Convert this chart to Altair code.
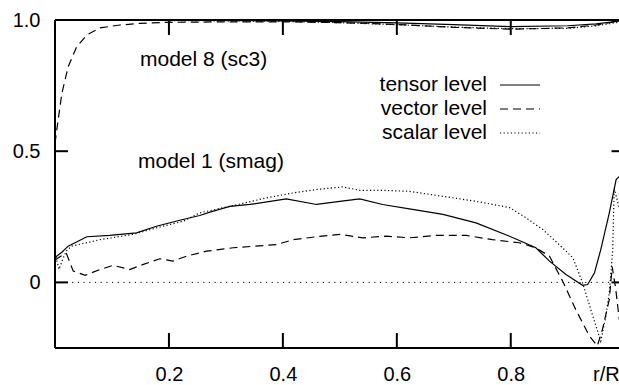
import altair as alt
import pandas as pd

# ---------------- data ----------------
# model 1 (smag)
m1_tensor_x = [0.0, 0.012, 0.023, 0.056, 0.096, 0.143, 0.178, 0.219, 0.254, 0.272, 0.307, 0.342, 0.406, 0.459,
               0.500, 0.535, 0.575, 0.622, 0.681, 0.739, 0.798, 0.844, 0.868, 0.897, 0.926, 0.935, 0.947, 0.958,
               0.973, 0.985, 0.990, 1.0]
m1_tensor_y = [0.095, 0.115, 0.138, 0.174, 0.179, 0.189, 0.214, 0.237, 0.255, 0.268, 0.290, 0.297, 0.318, 0.297,
               0.309, 0.318, 0.297, 0.280, 0.259, 0.227, 0.176, 0.132, 0.081, 0.030, -0.011, -0.008, 0.037, 0.125,
               0.265, 0.392, 0.403, 0.41]

m1_vector_x = [0.0, 0.01, 0.02, 0.032, 0.053, 0.079, 0.102, 0.131, 0.154, 0.184, 0.207, 0.231, 0.266, 0.313,
               0.389, 0.418, 0.459, 0.500, 0.540, 0.581, 0.622, 0.669, 0.722, 0.768, 0.815, 0.844, 0.868, 0.891,
               0.914, 0.938, 0.952, 0.961, 0.973, 0.978, 0.984, 0.99, 1.0]
m1_vector_y = [0.085, 0.10, 0.11, 0.043, 0.027, 0.049, 0.065, 0.049, 0.068, 0.090, 0.081, 0.100, 0.119, 0.132,
               0.144, 0.163, 0.174, 0.183, 0.170, 0.176, 0.170, 0.179, 0.179, 0.163, 0.151, 0.132, 0.100, 0.005,
               -0.103, -0.204, -0.242, -0.179, -0.065, 0.06, -0.02, -0.133, -0.25]

m1_scalar_x = [0.0, 0.007, 0.013, 0.02, 0.029, 0.079, 0.137, 0.178, 0.225, 0.254, 0.313, 0.371, 0.418, 0.459,
               0.505, 0.535, 0.575, 0.622, 0.681, 0.739, 0.798, 0.827, 0.856, 0.885, 0.909, 0.926, 0.944, 0.958,
               0.967, 0.973, 0.979, 0.9815, 1.0]
m1_scalar_y = [0.11, 0.05, 0.085, 0.12, 0.138, 0.163, 0.183, 0.208, 0.233, 0.265, 0.293, 0.322, 0.341, 0.354,
               0.364, 0.351, 0.351, 0.347, 0.328, 0.309, 0.285, 0.246, 0.202, 0.144, 0.094, -0.001, -0.128, -0.224,
               -0.128, -0.039, 0.125, 0.36, 0.2]

# model 8 (sc3)
m8_vector_x = [0.0, 0.003, 0.012, 0.023, 0.038, 0.056, 0.079, 0.114, 0.149, 0.196, 0.3, 0.4, 0.5, 0.6, 0.7,
               0.8, 0.9, 0.95, 0.99, 1.0]
m8_vector_y = [0.53, 0.58, 0.72, 0.821, 0.898, 0.943, 0.970, 0.981, 0.987, 0.991, 0.993, 0.993, 0.99, 0.983,
               0.972, 0.965, 0.97, 0.981, 0.996, 1.0]

m8_tensor_x = [0.0, 0.05, 0.2, 0.4, 0.5, 0.6, 0.7, 0.8, 0.9, 0.95, 1.0]
m8_tensor_y = [1.0, 1.0, 0.999, 0.997, 0.994, 0.989, 0.982, 0.975, 0.978, 0.985, 0.998]

m8_scalar_x = [0.0, 0.05, 0.2, 0.4, 0.5, 0.6, 0.7, 0.8, 0.9, 0.95, 1.0]
m8_scalar_y = [1.0, 1.0, 0.998, 0.995, 0.99, 0.982, 0.973, 0.967, 0.968, 0.978, 0.995]

x_ticks = [0.2, 0.4, 0.6, 0.8]
y_ticks = [0.0, 0.5, 1.0]
legend_labels = ["tensor level", "vector level", "scalar level"]
model_labels = ["model 8 (sc3)", "model 1 (smag)"]
axis_end_label = "r/R"

# ---------------- layout / style ----------------
W, H = 564, 328
FONT = "Liberation Sans"
FS = 20
FS_TEXT = 21
SOLID = []
DASH = [8, 5]
DOT = [1.2, 2.4]
LW = 1.2

xscale = alt.Scale(domain=[0, 0.99], nice=False, zero=False)
yscale = alt.Scale(domain=[-0.25, 1.0], nice=False, zero=False)

XAX = alt.Axis(values=x_ticks, format=".1f", ticks=False, domain=False, grid=False,
               labelFont=FONT, labelFontSize=FS, labelColor="black", labelPadding=16, title=None)
YAX = alt.Axis(values=y_ticks, ticks=False, domain=False, grid=False,
               labelExpr="datum.value == 0 ? '0' : format(datum.value, '.1f')",
               labelFont=FONT, labelFontSize=FS, labelColor="black", labelPadding=15, title=None)


def X(field):
    return alt.X(field, scale=xscale, axis=XAX, title=None)


def Y(field):
    return alt.Y(field, scale=yscale, axis=YAX, title=None)


one = pd.DataFrame({"a": [0]})


def series(xs, ys, dash):
    df = pd.DataFrame({"x": xs, "y": ys})
    kw = dict(color="black", strokeWidth=LW, clip=True)
    if dash:
        kw["strokeDash"] = dash
    return alt.Chart(df).mark_line(**kw).encode(x=X("x:Q"), y=Y("y:Q"))


layers = []

# zero axis (dotted)
layers.append(alt.Chart(pd.DataFrame({"v": [0.0]})).mark_rule(
    color="black", strokeWidth=1, strokeDash=[1.2, 4.5]).encode(
    y=Y("v:Q"), x=alt.value(0), x2=alt.value(W)))

layers.append(series(m1_tensor_x, m1_tensor_y, SOLID))
layers.append(series(m1_vector_x, m1_vector_y, DASH))
layers.append(series(m1_scalar_x, m1_scalar_y, DOT))
layers.append(series(m8_tensor_x, m8_tensor_y, SOLID))
layers.append(series(m8_vector_x, m8_vector_y, DASH))
layers.append(series(m8_scalar_x, m8_scalar_y, DOT))

# border
for enc in [dict(x=alt.value(0), x2=alt.value(0), y=alt.value(0), y2=alt.value(H)),
            dict(x=alt.value(0), x2=alt.value(W), y=alt.value(H), y2=alt.value(H)),
            dict(x=alt.value(0), x2=alt.value(W), y=alt.value(0), y2=alt.value(0))]:
    layers.append(alt.Chart(one).mark_rule(color="black", strokeWidth=2).encode(**enc))

# inward ticks
ydf = pd.DataFrame({"v": y_ticks})
xdf = pd.DataFrame({"v": x_ticks})
layers.append(alt.Chart(ydf).mark_rule(color="black", strokeWidth=2).encode(
    y=Y("v:Q"), x=alt.value(0), x2=alt.value(13)))
layers.append(alt.Chart(ydf).mark_rule(color="black", strokeWidth=2).encode(
    y=Y("v:Q"), x=alt.value(W - 7.5), x2=alt.value(W)))
layers.append(alt.Chart(xdf).mark_rule(color="black", strokeWidth=2).encode(
    x=X("v:Q"), y=alt.value(0), y2=alt.value(15)))
layers.append(alt.Chart(xdf).mark_rule(color="black", strokeWidth=2).encode(
    x=X("v:Q"), y=alt.value(H - 15), y2=alt.value(H)))

# legend
for i, (lab, dash) in enumerate(zip(legend_labels, [SOLID, DASH, DOT])):
    yy = 65 + 24 * i
    layers.append(alt.Chart(pd.DataFrame({"t": [lab]})).mark_text(
        font=FONT, fontSize=FS_TEXT, align="right", baseline="middle", color="black").encode(
        text="t:N", x=alt.value(432), y=alt.value(yy)))
    kw = dict(color="black", strokeWidth=LW)
    if dash:
        kw["strokeDash"] = dash
    layers.append(alt.Chart(one).mark_rule(**kw).encode(
        x=alt.value(445), x2=alt.value(485), y=alt.value(yy), y2=alt.value(yy)))

# model labels
for lab, px, py in [(model_labels[0], 85, 40), (model_labels[1], 83, 142)]:
    layers.append(alt.Chart(pd.DataFrame({"t": [lab]})).mark_text(
        font=FONT, fontSize=FS_TEXT, align="left", baseline="middle", color="black").encode(
        text="t:N", x=alt.value(px), y=alt.value(py)))

# r/R label at the end of the x axis
layers.append(alt.Chart(pd.DataFrame({"t": [axis_end_label]})).mark_text(
    font=FONT, fontSize=FS, align="left", baseline="top", color="black").encode(
    text="t:N", x=alt.value(538), y=alt.value(H + 17)))

chart = alt.layer(*layers).properties(
    width=W, height=H,
    autosize=alt.AutoSizeParams(type="none"),
    padding={"left": 55, "top": 20, "right": 0, "bottom": 37},
    background="white",
).configure_view(stroke=None)

chart.save("out.html", embed_options={"renderer": "svg", "actions": False})
